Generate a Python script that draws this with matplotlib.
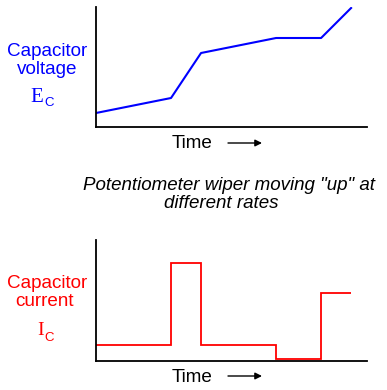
import matplotlib
matplotlib.use("Agg")
import matplotlib.pyplot as plt

# Data (time in arbitrary units, values in arbitrary units)
time_points = [0, 25, 35, 60, 75, 85]
voltage = [14, 29, 74, 89, 89, 119]
current_edges = [0, 25, 35, 60, 75, 85]
current = [16, 98, 16, 2, 68]

plt.rcParams['font.family'] = ['Liberation Sans', 'DejaVu Sans']

W, H = 387, 390
fig = plt.figure(figsize=(W / 100, H / 100), dpi=100)

def fx(px):
    return px / W

def fy(py):
    return 1 - py / H

blue = '#0000ff'
red = '#ff0000'

# Top axes
ax1 = fig.add_axes([fx(96), fy(127), fx(367) - fx(96), (127 - 7) / H])
ax1.plot(time_points, voltage, color=blue, lw=1.5)
ax1.set_xlim(0, 90.3)
ax1.set_ylim(0, 120)

# Bottom axes
ax2 = fig.add_axes([fx(96), fy(361), fx(367) - fx(96), (361 - 240) / H])
ax2.stairs(current, current_edges, color=red, lw=1.3, baseline=None)
ax2.set_xlim(0, 90.3)
ax2.set_ylim(0, 121)

for ax in (ax1, ax2):
    ax.set_xticks([])
    ax.set_yticks([])
    for s in ('top', 'right'):
        ax.spines[s].set_visible(False)
    for s in ('left', 'bottom'):
        ax.spines[s].set_linewidth(1.3)
        ax.spines[s].set_color('black')
    ax.patch.set_alpha(0)

fs = 13.6
serif = ['Liberation Serif', 'DejaVu Serif']
# Top labels
fig.text(fx(47), fy(52), 'Capacitor', color=blue, fontsize=fs, ha='center', va='center')
fig.text(fx(47), fy(70), 'voltage', color=blue, fontsize=fs, ha='center', va='center')
fig.text(fx(43.5), fy(102), 'E', color=blue, fontsize=15, ha='right', va='baseline', family=serif)
fig.text(fx(44), fy(106), 'C', color=blue, fontsize=9.5, ha='left', va='baseline')
fig.text(fx(192), fy(144), 'Time', color='black', fontsize=fs, ha='center', va='center')
fig.add_artist(matplotlib.patches.FancyArrowPatch(
    (fx(228), fy(143)), (fx(262), fy(143)), transform=fig.transFigure,
    arrowstyle='-|>', mutation_scale=10, color='black', lw=1.0,
    shrinkA=0, shrinkB=0))

# Title
fig.text(fx(229), fy(185), 'Potentiometer wiper moving "up" at', fontsize=13.5,
         style='italic', ha='center', va='center')
fig.text(fx(221), fy(204), 'different rates', fontsize=13.5,
         style='italic', ha='center', va='center')

# Bottom labels
fig.text(fx(47), fy(284), 'Capacitor', color=red, fontsize=fs, ha='center', va='center')
fig.text(fx(44), fy(302), 'current', color=red, fontsize=fs, ha='center', va='center')
fig.text(fx(43.5), fy(335), 'I', color=red, fontsize=14, ha='right', va='baseline', family=serif)
fig.text(fx(44), fy(341), 'C', color=red, fontsize=9.5, ha='left', va='baseline')
fig.text(fx(192), fy(377), 'Time', color='black', fontsize=fs, ha='center', va='center')
fig.add_artist(matplotlib.patches.FancyArrowPatch(
    (fx(228), fy(376)), (fx(262), fy(376)), transform=fig.transFigure,
    arrowstyle='-|>', mutation_scale=10, color='black', lw=1.0,
    shrinkA=0, shrinkB=0))

fig.savefig('out.png', dpi=100)
